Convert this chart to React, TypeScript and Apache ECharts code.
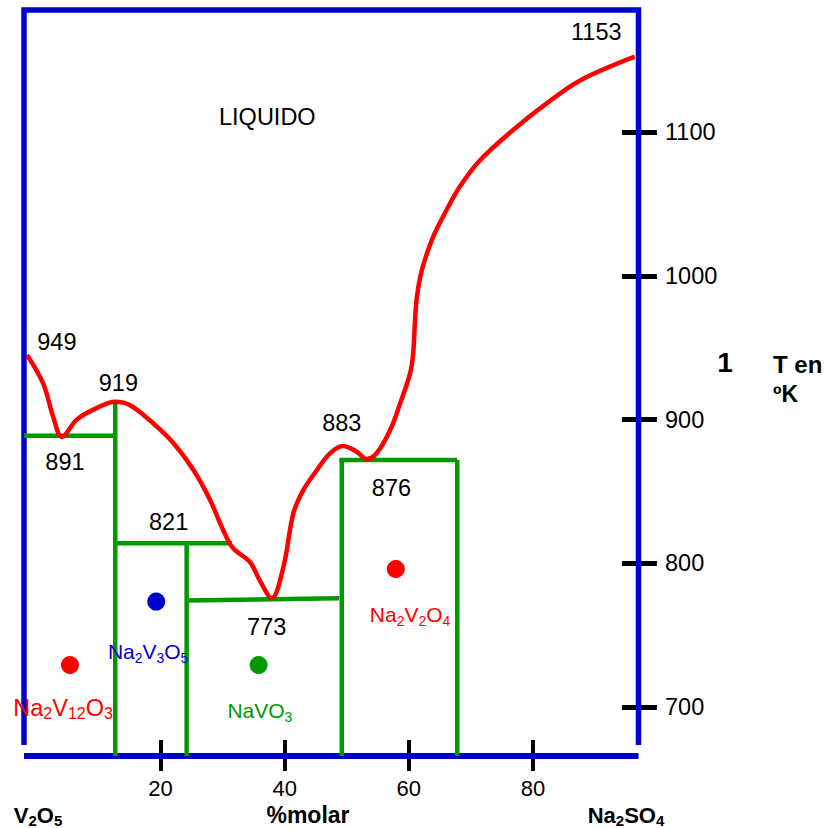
import React, { useEffect, useRef } from "react";
import * as echarts from "echarts";

// ---- axes ----
const xMin = -2;
const xMax = 97;
const yMin = 666;
const yMax = 1185;
const xTicks = [20, 40, 60, 80];
const yTicks = [700, 800, 900, 1000, 1100];
const frameBottomY = 673.7;

// ---- liquidus curve (red) ----
const liqX = [-1.5, 1.1, 2.7, 4.1, 6.5, 9.2, 12.7, 15.1, 18.8, 22.1, 25.3, 28.0, 30.1, 31.7, 34.4, 36.0, 37.9, 39.8, 41.4, 43.0, 45.2, 47.3, 49.4, 51.6, 53.2, 54.8, 57.0, 58.6, 60.2, 60.7, 61.0, 61.3, 62.1, 63.9, 66.1, 68.2, 71.5, 76.8, 82.2, 87.6, 96.4];
const liqY = [945, 925, 902, 888, 900, 907, 912.5, 910, 897.5, 883.6, 865, 844, 823, 810.5, 801, 788, 775.7, 797.7, 835, 851, 865, 876.6, 881.7, 877.7, 872.6, 876.6, 892.8, 911.4, 932.2, 946.2, 969.3, 985.5, 1004, 1027, 1046, 1062, 1080.6, 1101.5, 1120, 1136, 1152.5];

// ---- phase boundaries (green segments) ----
const bFromX = [-2, 12.7, 12.7, 24.2, 24.2, 49.2, 48.8, 67.8];
const bFromY = [888.8, 911.6, 814, 814, 774.2, 871.9, 871.9, 871.9];
const bToX = [12.7, 12.7, 31.5, 24.2, 48.8, 49.2, 67.8, 67.8];
const bToY = [888.8, 666, 814, 666, 775.7, 666, 871.9, 666];

// ---- compound dots ----
const dotX = [5.4, 19.3, 35.8, 57.9];
const dotY = [729.3, 773.4, 729.3, 796.1];
const dotColor = ["#ff0000", "#0000cc", "#009900", "#ff0000"];

// ---- compound names ----
const phaseNames = ["Na{s|2}V{s|12}O{s|3}", "Na{s|2}V{s|3}O{s|5}", "NaVO{s|3}", "Na{s|2}V{s|2}O{s|4}"];
const phaseX = [4.3, 18.0, 36.0, 60.2];
const phaseY = [699.2, 738.6, 697.5, 764.1];
const phaseColor = ["#ff0000", "#0000dd", "#009900", "#ff0000"];
const phaseSize = [23.5, 21, 21, 21];

// ---- temperature annotations ----
const tempText = ["1153", "949", "919", "891", "821", "773", "883", "876", "LIQUIDO"];
const tempX = [90.2, 3.3, 13.2, 4.6, 21.3, 37.1, 49.2, 57.2, 37.2];
const tempY = [1169.7, 954, 925.3, 870.8, 829, 756, 897.5, 852.2, 1110.6];

const FONT = "'Liberation Sans', Arial, Helvetica, sans-serif";
const BLUE = "#0000cc";
const GREEN = "#009900";

export default function App() {
  const ref = useRef<HTMLDivElement>(null);
  useEffect(() => {
    const chart = echarts.init(ref.current!, null, { renderer: "svg" });
    const subRich = (size: number, bold = false) => ({
      s: { fontSize: size, fontFamily: FONT, fontWeight: bold ? "bold" : "normal", verticalAlign: "bottom", lineHeight: 10 },
    });
    const boundarySeries = bFromX.map((_, i) => ({
      type: "line",
      data: [[bFromX[i], bFromY[i]], [bToX[i], bToY[i]]],
      symbol: "none",
      clip: false,
      silent: true,
      z: 3,
      lineStyle: { color: GREEN, width: 4.5, cap: "butt" },
    }));
    const option: any = {
      animation: false,
      textStyle: { fontFamily: FONT },
      grid: { left: 24, right: 195.5, top: 10, bottom: 72, containLabel: false },
      xAxis: {
        type: "value", min: xMin, max: xMax, position: "bottom", offset: -16,
        axisLine: { show: false, onZero: false },
        axisTick: { show: true, inside: false, length: 31, lineStyle: { color: "#000", width: 4 }, customValues: xTicks },
        axisLabel: { show: true, customValues: xTicks, margin: 37, fontSize: 22, color: "#000", fontFamily: FONT, formatter: (v: number) => String(v) },
        splitLine: { show: false },
      },
      yAxis: {
        type: "value", min: yMin, max: yMax, position: "right", offset: -16.5,
        axisLine: { show: false, onZero: false },
        axisTick: { show: true, inside: false, length: 35, lineStyle: { color: "#000", width: 5 }, customValues: yTicks },
        axisLabel: { show: true, customValues: yTicks, margin: 43, fontSize: 23.5, color: "#000", fontFamily: FONT, formatter: (v: number) => String(v) },
        splitLine: { show: false },
      },
      series: [
        {
          type: "line",
          data: [[xMin, frameBottomY], [xMin, yMax], [xMax, yMax], [xMax, frameBottomY]],
          symbol: "none", clip: false, silent: true, z: 2,
          lineStyle: { color: BLUE, width: 5.5, join: "miter" },
        },
        {
          type: "line",
          data: [[xMin, yMin], [xMax, yMin]],
          symbol: "none", clip: false, silent: true, z: 2,
          lineStyle: { color: BLUE, width: 6, cap: "butt" },
        },
        ...boundarySeries,
        {
          type: "line",
          data: liqX.map((x, i) => [x, liqY[i]]),
          smooth: 0.35, symbol: "none", clip: false, silent: true, z: 4,
          lineStyle: { color: "#ff0000", width: 4.5 },
        },
        {
          type: "scatter",
          data: dotX.map((x, i) => ({ value: [x, dotY[i]], itemStyle: { color: dotColor[i], opacity: 1 } })),
          symbolSize: 18, silent: true, z: 5, itemStyle: { opacity: 1 },
        },
        {
          type: "scatter",
          data: tempX.map((x, i) => ({ value: [x, tempY[i]], name: tempText[i] })),
          symbolSize: 1, itemStyle: { color: "transparent", opacity: 1 }, silent: true, z: 6,
          label: { show: true, position: "inside", formatter: (p: any) => p.name, color: "#000", fontSize: 23.5, fontFamily: FONT, opacity: 1 },
        },
        {
          type: "scatter",
          data: phaseX.map((x, i) => ({
            value: [x, phaseY[i]], name: phaseNames[i],
            label: { color: phaseColor[i], fontSize: phaseSize[i], rich: subRich(Math.round(phaseSize[i] * 0.68)) },
          })),
          symbolSize: 1, itemStyle: { color: "transparent", opacity: 1 }, silent: true, z: 6,
          label: {
            show: true, position: "inside", formatter: (p: any) => p.name,
            fontFamily: FONT, lineHeight: 26, opacity: 1,
          },
        },
      ],
      graphic: [
        { type: "text", x: 38, y: 815, style: { text: "V{s|2}O{s|5}", fontSize: 22, fontWeight: "bold", fontFamily: FONT, fill: "#000", align: "center", verticalAlign: "middle", lineHeight: 26, rich: subRich(15, true) } },
        { type: "text", x: 308, y: 815, style: { text: "%molar", fontSize: 23, fontWeight: "bold", fontFamily: FONT, fill: "#000", align: "center", verticalAlign: "middle" } },
        { type: "text", x: 626, y: 815, style: { text: "Na{s|2}SO{s|4}", fontSize: 22, fontWeight: "bold", fontFamily: FONT, fill: "#000", align: "center", verticalAlign: "middle", lineHeight: 26, rich: subRich(15, true) } },
        { type: "text", x: 725, y: 362, style: { text: "1", fontSize: 28, fontWeight: "bold", fontFamily: FONT, fill: "#000", align: "center", verticalAlign: "middle" } },
        { type: "text", x: 773, y: 364, style: { text: "T en", fontSize: 24, fontWeight: "bold", fontFamily: FONT, fill: "#000", align: "left", verticalAlign: "middle" } },
        { type: "text", x: 773, y: 394, style: { text: "ºK", fontSize: 23, fontWeight: "bold", fontFamily: FONT, fill: "#000", align: "left", verticalAlign: "middle" } },
      ],
    };
    chart.setOption(option);
    return () => chart.dispose();
  }, []);
  return <div ref={ref} style={{ position: "fixed", left: 0, top: 0, width: 834, height: 828, background: "#fff" }} />;
}
